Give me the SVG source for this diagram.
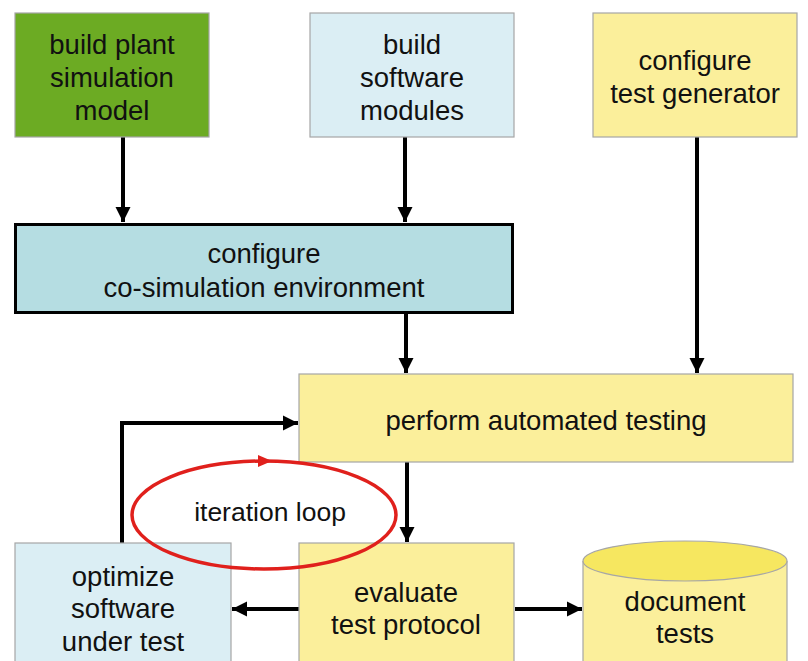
<svg xmlns="http://www.w3.org/2000/svg" width="808" height="661" viewBox="0 0 808 661">
<style>
text{font-family:"Liberation Sans",Arial,sans-serif;font-size:27.5px;fill:#111;text-anchor:middle}
.box{stroke:#a6a6a6;stroke-width:1.2}
.conn{stroke:#000;stroke-width:4;fill:none}
</style>
<defs>
<marker id="ah" viewBox="0 0 10 10" refX="10" refY="5" markerWidth="3.8" markerHeight="3.8" orient="auto" markerUnits="strokeWidth">
<path d="M0,0 L10,5 L0,10 z" fill="#000"/>
</marker>
</defs>
<rect width="808" height="661" fill="#fff"/>
<g id="connectors">
<line class="conn" x1="123" y1="137" x2="123" y2="222" marker-end="url(#ah)"/>
<line class="conn" x1="405" y1="137" x2="405" y2="222" marker-end="url(#ah)"/>
<line class="conn" x1="406" y1="314" x2="406" y2="373" marker-end="url(#ah)"/>
<line class="conn" x1="697" y1="137" x2="697" y2="373" marker-end="url(#ah)"/>
<line class="conn" x1="407" y1="462" x2="407" y2="542" marker-end="url(#ah)"/>
<polyline class="conn" points="122,543 122,423 298,423" marker-end="url(#ah)"/>
<line class="conn" x1="299" y1="609" x2="232" y2="609" marker-end="url(#ah)"/>
<line class="conn" x1="515" y1="609" x2="582" y2="609" marker-end="url(#ah)"/>
</g>
<g id="n1"><rect class="box" x="15" y="13" width="194" height="124" fill="#6cab23"/>
<text x="112" y="54">build plant</text><text x="112" y="87">simulation</text><text x="112" y="120">model</text></g>
<g id="n2"><rect class="box" x="310" y="13" width="204" height="124" fill="#dbeef4"/>
<text x="412" y="54">build</text><text x="412" y="87">software</text><text x="412" y="120">modules</text></g>
<g id="n3"><rect class="box" x="593" y="13" width="204" height="124" fill="#fbef9b"/>
<text x="695" y="70">configure</text><text x="695" y="103">test generator</text></g>
<g id="n4"><rect x="15.5" y="224.5" width="497" height="88" fill="#b5dde2" stroke="#000" stroke-width="3"/>
<text x="264" y="263">configure</text><text x="264" y="297">co-simulation environment</text></g>
<g id="n5"><rect class="box" x="299" y="374" width="494" height="88" fill="#fbef9b"/>
<text x="546" y="430">perform automated testing</text></g>
<g id="n6"><rect class="box" x="15" y="543" width="216" height="130" fill="#dbeef4"/>
<text x="123" y="586">optimize</text><text x="123" y="618">software</text><text x="123" y="651">under test</text></g>
<g id="n7"><rect class="box" x="299" y="543" width="215" height="130" fill="#fbef9b"/>
<text x="406" y="602">evaluate</text><text x="406" y="634">test protocol</text></g>
<g id="n8">
<path class="box" d="M583,561 L583,680 L787,680 L787,561" fill="#fbef9b"/>
<ellipse class="box" cx="685" cy="561" rx="102" ry="20" fill="#f6e760"/>
<text x="685" y="611">document</text><text x="685" y="643">tests</text></g>
<g id="loop">
<ellipse cx="264" cy="515" rx="132" ry="54" fill="none" stroke="#e0201c" stroke-width="3.5"/>
<path d="M258,455 L272,461 L258,467 z" fill="#e0201c"/>
<text x="270" y="521" style="font-size:26.5px">iteration loop</text>
</g>
</svg>
